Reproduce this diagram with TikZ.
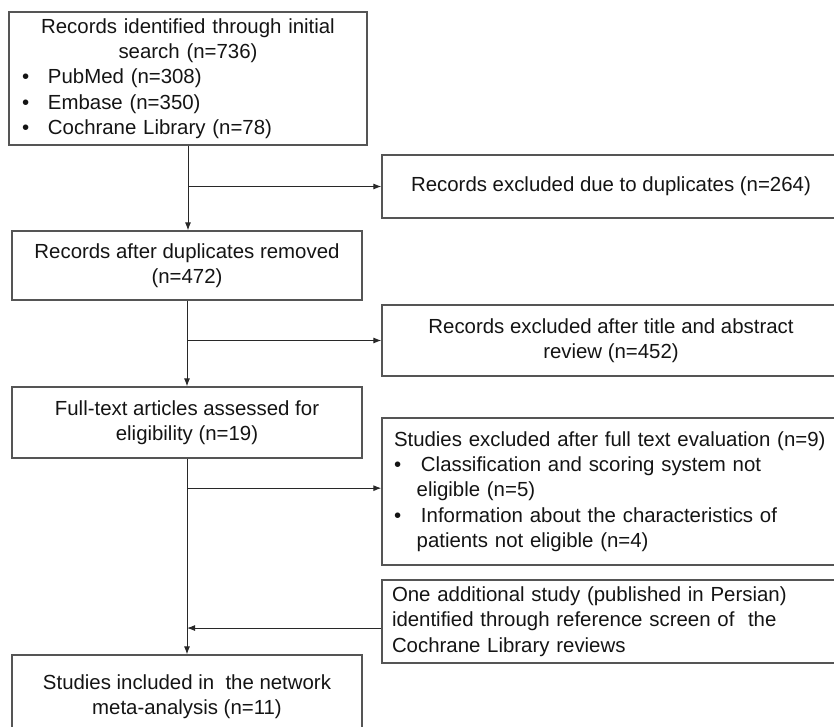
\documentclass[tikz,border=0pt]{standalone}
\usepackage{fontspec}
\setmainfont{Liberation Sans}
\usepackage{tikz}
\usetikzlibrary{arrows.meta}

\begin{document}
\begin{tikzpicture}[x=0.75pt,y=0.75pt,yscale=-1,xscale=1,
  box/.style={draw={rgb, 255:red, 85; green, 85; blue, 85 }, line width=0.9pt, inner sep=0pt, font=\fontsize{15.3pt}{19pt}\selectfont, text={rgb, 255:red, 20; green, 20; blue, 20 }},
  flow/.style={draw={rgb, 255:red, 40; green, 40; blue, 40 }, line width=0.75pt, -{Latex[length=6pt,width=4.5pt]}}]
\useasboundingbox (0,0) rectangle (834,727);
\clip (0,0) rectangle (834,727);

%Shape: Rectangle [id:search]
\node [box, minimum width=268.5pt, minimum height=99.75pt, text width=249pt, align=left] (search) at (188,78.5)
  {\makebox[249pt]{Records identified through initial}\\
   \makebox[249pt]{search (n=736)}\\
   \makebox[19.5pt][l]{\textbullet}PubMed (n=308)\\
   \makebox[19.5pt][l]{\textbullet}Embase (n=350)\\
   \makebox[19.5pt][l]{\textbullet}Cochrane Library (n=78)};
%Shape: Rectangle [id:removed]
\node [box, minimum width=262.5pt, minimum height=51.75pt, align=center] (removed) at (187,265.5)
  {Records after duplicates removed\\(n=472)};
%Shape: Rectangle [id:fulltext]
\node [box, minimum width=262.5pt, minimum height=53.25pt, align=center] (fulltext) at (187,422.5)
  {Full-text articles assessed for\\eligibility (n=19)};
%Shape: Rectangle [id:included]
\node [box, minimum width=262.5pt, minimum height=62.25pt, align=center] (included) at (187,696.5)
  {Studies included in \ the network\\meta-analysis (n=11)};

%Shape: Rectangle [id:dupex]
\node [box, minimum width=343.5pt, minimum height=47.25pt, align=center] (dupex) at (611,186.5)
  {Records excluded due to duplicates (n=264)};
%Shape: Rectangle [id:screenex]
\node [box, minimum width=343.5pt, minimum height=53.25pt, align=center] (screenex) at (611,340.5)
  {Records excluded after title and abstract\\review (n=452)};
%Shape: Rectangle [id:fullex]
\node [box, minimum width=343.5pt, minimum height=110.25pt, text width=325.5pt, align=left] (fullex) at (611,491.5)
  {Studies excluded after full text evaluation (n=9)\\
   \makebox[20.25pt][l]{\textbullet}Classification and scoring system not\\
   \hspace*{17pt}eligible (n=5)\\
   \makebox[20.25pt][l]{\textbullet}Information about the characteristics of\\
   \hspace*{17pt}patients not eligible (n=4)};
%Shape: Rectangle [id:extra]
\node [box, minimum width=343.5pt, minimum height=62.25pt, text width=328.5pt, align=left] (extra) at (611,621.5)
  {One additional study (published in Persian)\\
   identified through reference screen of \ the\\
   Cochrane Library reviews};

% arrow ends on the side boxes
\coordinate (fullin) at ([yshift=-2.5pt]fullex.west);
\coordinate (extraout) at ([yshift=4.9pt]extra.west);

%Straight Lines with arrows
\draw [flow] (search.south) -- (search.south |- removed.north);
\draw [flow] (search.south |- dupex.west) -- (dupex.west);
\draw [flow] (removed.south) -- (removed.south |- fulltext.north);
\draw [flow] (removed.south |- screenex.west) -- (screenex.west);
\draw [flow] (fulltext.south) -- (fulltext.south |- included.north);
\draw [flow] (fulltext.south |- fullin) -- (fullin);
\draw [flow] (extraout) -- (fulltext.south |- extraout);

\end{tikzpicture}
\end{document}
